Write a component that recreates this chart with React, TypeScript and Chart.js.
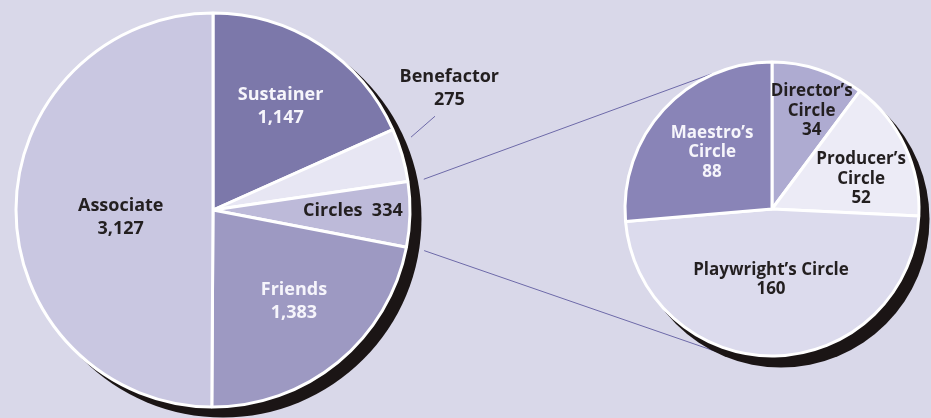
import React, { useEffect, useRef } from "react";
import { Chart, registerables } from "chart.js";

Chart.register(...registerables);

// ---------- data ----------
const bigCategories = ["Sustainer", "Benefactor", "Circles", "Friends", "Associate"];
const bigValues = [1147, 275, 334, 1383, 3127];
const smallCategories = ["Director’s Circle", "Producer’s Circle", "Playwright’s Circle", "Maestro’s Circle"];
const smallValues = [34, 52, 160, 88];

// ---------- styles ----------
const BG = "#d9d8e9";
const DARK = "#231f20";
const LIGHT = "#f6f5fb";
const bigColors = ["#7c78aa", "#e7e6f3", "#bdbad9", "#9d99c2", "#c9c7e1"];
const bigLabelColors = [LIGHT, DARK, DARK, LIGHT, DARK];
const bigLabelMode = ["stack", "stack", "inline", "stack", "stack"];
const bigLabelAngle = [-57, -27.3, 0.4, 48.5, 175.3];
const bigLabelRadius = [0.63, 1.35, 0.71, 0.62, 0.47];

const smallColors = ["#aeabd1", "#ecebf6", "#dcdbed", "#8984b7"];
const smallLabelColors = [DARK, DARK, DARK, LIGHT];
const smallLabelMode = ["wrap", "wrap", "stack", "wrap"];
const smallLabelAngle = [-68, -18.7, 90.8, -136.7];
const smallLabelRadius = [0.72, 0.64, 0.48, 0.56];

const FONT = "'Open Sans', 'DejaVu Sans', sans-serif";
const W = 931;
const H = 418;

const fmt = (v: number) => v.toLocaleString("en-US");

function labelLines(name: string, value: number, mode: string): string[] {
  if (mode === "inline") return [`${name}  ${fmt(value)}`];
  if (mode === "wrap") return [...name.split(" "), fmt(value)];
  return [name, fmt(value)];
}

const deg = (d: number) => (d * Math.PI) / 180;

function shadowPlugin(dx: number, dy: number) {
  return {
    id: "shadowDisk",
    beforeDatasetsDraw(chart: any) {
      const arc = chart.getDatasetMeta(0).data[0];
      if (!arc) return;
      const ctx = chart.ctx;
      ctx.save();
      ctx.fillStyle = "#1b1515";
      ctx.beginPath();
      ctx.arc(arc.x + dx, arc.y + dy, arc.outerRadius + 1.5, 0, Math.PI * 2);
      ctx.fill();
      ctx.restore();
    },
  };
}

function labelPlugin(
  names: string[],
  values: number[],
  modes: string[],
  angles: number[],
  radii: number[],
  colors: string[],
  fontSize: number,
  lineHeight: number
) {
  return {
    id: "sliceLabels",
    afterDatasetsDraw(chart: any) {
      const meta = chart.getDatasetMeta(0);
      const ctx = chart.ctx;
      ctx.save();
      ctx.font = `bold ${fontSize}px ${FONT}`;
      ctx.textAlign = "center";
      ctx.textBaseline = "middle";
      meta.data.forEach((arc: any, i: number) => {
        const a = deg(angles[i]);
        const r = arc.outerRadius * radii[i];
        const cx = arc.x + Math.cos(a) * r;
        const cy = arc.y + Math.sin(a) * r;
        const lines = labelLines(names[i], values[i], modes[i]);
        ctx.fillStyle = colors[i];
        lines.forEach((t, k) => {
          ctx.fillText(t, cx, cy + (k - (lines.length - 1) / 2) * lineHeight);
        });
      });
      ctx.restore();
    },
  };
}

export default function App() {
  const bigRef = useRef<HTMLCanvasElement>(null);
  const smallRef = useRef<HTMLCanvasElement>(null);

  useEffect(() => {
    document.body.style.margin = "0";
    document.body.style.background = BG;
    if (!bigRef.current || !smallRef.current) return;

    const big = new Chart(bigRef.current, {
      type: "pie",
      data: {
        labels: bigCategories,
        datasets: [
          {
            data: bigValues,
            backgroundColor: bigColors,
            borderColor: "#ffffff",
            borderWidth: 3,
            radius: 197,
          } as any,
        ],
      },
      options: {
        animation: false,
        responsive: false,
        devicePixelRatio: 1,
        layout: { padding: { left: 13, right: W - 413, top: 12, bottom: H - 408 } },
        plugins: { legend: { display: false }, tooltip: { enabled: false } },
      } as any,
      plugins: [
        shadowPlugin(10, 9),
        {
          id: "benefactorLeader",
          afterDatasetsDraw(chart: any) {
            const arc = chart.getDatasetMeta(0).data[1];
            const ctx = chart.ctx;
            const R = arc.outerRadius;
            const a1 = deg(-20.2);
            const a2 = deg(-22.9);
            ctx.save();
            ctx.strokeStyle = "#6d69a8";
            ctx.lineWidth = 1;
            ctx.beginPath();
            ctx.moveTo(arc.x + Math.cos(a1) * (R + 14), arc.y + Math.sin(a1) * (R + 14));
            ctx.lineTo(arc.x + Math.cos(a2) * (R + 44), arc.y + Math.sin(a2) * (R + 44));
            ctx.stroke();
            ctx.restore();
          },
        },
        labelPlugin(bigCategories, bigValues, bigLabelMode, bigLabelAngle, bigLabelRadius, bigLabelColors, 18, 23),
      ] as any,
    });

    const small = new Chart(smallRef.current, {
      type: "pie",
      data: {
        labels: smallCategories,
        datasets: [
          {
            data: smallValues,
            backgroundColor: smallColors,
            borderColor: "#ffffff",
            borderWidth: 3,
            radius: 147,
          } as any,
        ],
      },
      options: {
        animation: false,
        responsive: false,
        devicePixelRatio: 1,
        layout: { padding: { left: 622, right: W - 922, top: 59, bottom: H - 359 } },
        plugins: { legend: { display: false }, tooltip: { enabled: false } },
      } as any,
      plugins: [
        {
          id: "connectors",
          beforeDatasetsDraw(chart: any) {
            const src = big.getDatasetMeta(0).data[2] as any;
            const dst = chart.getDatasetMeta(0).data[0];
            if (!src || !dst) return;
            const ctx = chart.ctx;
            const R1 = src.outerRadius;
            const R2 = dst.outerRadius;
            const s1 = src.startAngle;
            const s2 = src.endAngle;
            const e1 = deg(-114);
            const e2 = deg(110);
            ctx.save();
            ctx.strokeStyle = "#6d69a8";
            ctx.lineWidth = 1;
            ctx.beginPath();
            ctx.moveTo(src.x + Math.cos(s1) * (R1 + 16), src.y + Math.sin(s1) * (R1 + 16));
            ctx.lineTo(dst.x + Math.cos(e1) * (R2 + 1), dst.y + Math.sin(e1) * (R2 + 1));
            ctx.moveTo(src.x + Math.cos(s2) * (R1 + 18), src.y + Math.sin(s2) * (R1 + 18));
            ctx.lineTo(dst.x + Math.cos(e2) * (R2 + 6), dst.y + Math.sin(e2) * (R2 + 6));
            ctx.stroke();
            ctx.restore();
          },
        },
        shadowPlugin(9, 10),
        labelPlugin(smallCategories, smallValues, smallLabelMode, smallLabelAngle, smallLabelRadius, smallLabelColors, 17, 19.5),
      ] as any,
    });

    return () => {
      small.destroy();
      big.destroy();
    };
  }, []);

  const canvasStyle: React.CSSProperties = {
    position: "absolute",
    left: 0,
    top: 0,
    width: W,
    height: H,
  };

  return (
    <div style={{ position: "relative", width: W, height: H, background: BG, overflow: "hidden" }}>
      <canvas ref={bigRef} width={W} height={H} style={canvasStyle} />
      <canvas ref={smallRef} width={W} height={H} style={canvasStyle} />
    </div>
  );
}
